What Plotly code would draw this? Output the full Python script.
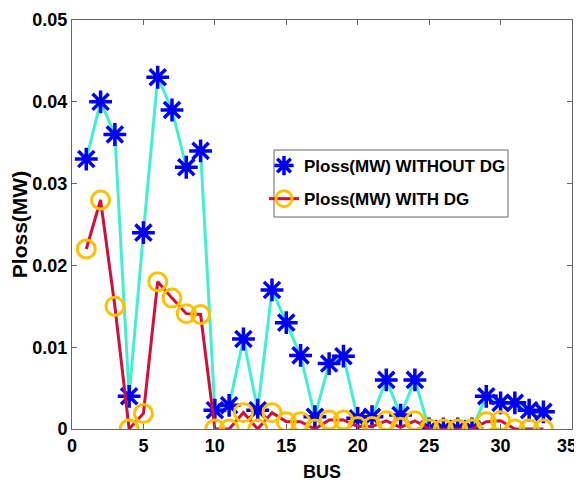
import plotly.graph_objects as go

bus = list(range(1, 34))
ploss_without_dg = [0.033, 0.040, 0.036, 0.004, 0.024, 0.043, 0.039, 0.032, 0.034, 0.0023,
                    0.0029, 0.011, 0.0023, 0.017, 0.013, 0.009, 0.0015, 0.008, 0.0089, 0.0013,
                    0.0015, 0.006, 0.0017, 0.006, 0.0, 0.0, 0.0, 0.0, 0.004, 0.0032,
                    0.0032, 0.0023, 0.0021]
ploss_with_dg = [0.022, 0.028, 0.015, 0.0, 0.0019, 0.018, 0.016, 0.0141, 0.014, 0.0,
                 0.0, 0.002, 0.0, 0.002, 0.0009, 0.0009, 0.0, 0.0011, 0.0011, 0.0003,
                 0.0003, 0.001, 0.0002, 0.001, 0.0, 0.0, 0.0, 0.0, 0.0009, 0.001,
                 0.0, 0.0, 0.0]
x_ticks = [0, 5, 10, 15, 20, 25, 30, 35]
y_ticks = [0, 0.01, 0.02, 0.03, 0.04, 0.05]
y_tick_text = ["0", "0.01", "0.02", "0.03", "0.04", "0.05"]

FONT = "Liberation Sans, Arial, sans-serif"
BLUE = "#0000F0"
GOLD = "#FFC000"

fig = go.Figure()
# line of the "without DG" series (legend shows marker only)
fig.add_trace(go.Scatter(
    x=bus, y=ploss_without_dg, mode="lines", showlegend=False,
    line=dict(color="#40F0D0", width=3), legendgroup="a",
))
fig.add_trace(go.Scatter(
    x=bus, y=ploss_without_dg, mode="markers",
    name="<b>Ploss(MW) WITHOUT DG</b>", legendgroup="a",
    marker=dict(symbol="asterisk-open", size=19, color=BLUE,
                line=dict(color=BLUE, width=3.5)),
))
fig.add_trace(go.Scatter(
    x=bus, y=ploss_with_dg, mode="lines+markers",
    name="<b>Ploss(MW) WITH DG</b>", legendgroup="b",
    line=dict(color="#D0103A", width=3),
    marker=dict(symbol="circle-open", size=18, color=GOLD,
                line=dict(color=GOLD, width=3)),
))

axis_common = dict(
    showline=True, linecolor="#666666", linewidth=1, mirror="ticks",
    ticks="inside", ticklen=5, tickcolor="#666666", showgrid=False, zeroline=False,
    tickfont=dict(family=FONT, size=18, color="black"),
)
x_tick_text = ["<b>%d</b>" % t for t in x_ticks]
x_tick_text[-1] = x_tick_text[-1] + "\u00a0\u00a0"  # keep last label inside the page edge
fig.update_xaxes(range=[0, 35], tickvals=x_ticks, ticktext=x_tick_text,
                 ticklabeloverflow="allow",
                 title=dict(text="<b>BUS</b>", font=dict(family=FONT, size=18, color="black"), standoff=10),
                 **axis_common)
fig.update_yaxes(range=[0, 0.05], tickvals=y_ticks, ticktext=["<b>%s</b>" % t for t in y_tick_text],
                 ticklabeloverflow="allow",
                 title=dict(text="<b>Ploss(MW)</b>", font=dict(family=FONT, size=21, color="black"), standoff=4),
                 **axis_common)

# page body adds an 8px offset; compensate so the plot area sits at x 72..572, y 20..429
fig.update_layout(
    width=574, height=477,
    margin=dict(l=64, r=10, t=12, b=56, autoexpand=False),
    paper_bgcolor="white", plot_bgcolor="white",
    showlegend=True,
    legend=dict(x=(264 - 72) / 500, y=(429 - 148) / 409, xanchor="left", yanchor="top",
                borderwidth=0, bgcolor="rgba(0,0,0,0)",
                font=dict(family=FONT, size=17, color="black"),
                itemwidth=30, tracegroupgap=8, traceorder="grouped"),
    shapes=[dict(type="rect", xref="paper", yref="paper",
                 x0=(274 - 72) / 500, x1=(508 - 72) / 500,
                 y0=(429 - 217) / 409, y1=(429 - 150) / 409,
                 line=dict(color="#666666", width=1), fillcolor="white", layer="above")],
)
fig.write_html("out.html")
